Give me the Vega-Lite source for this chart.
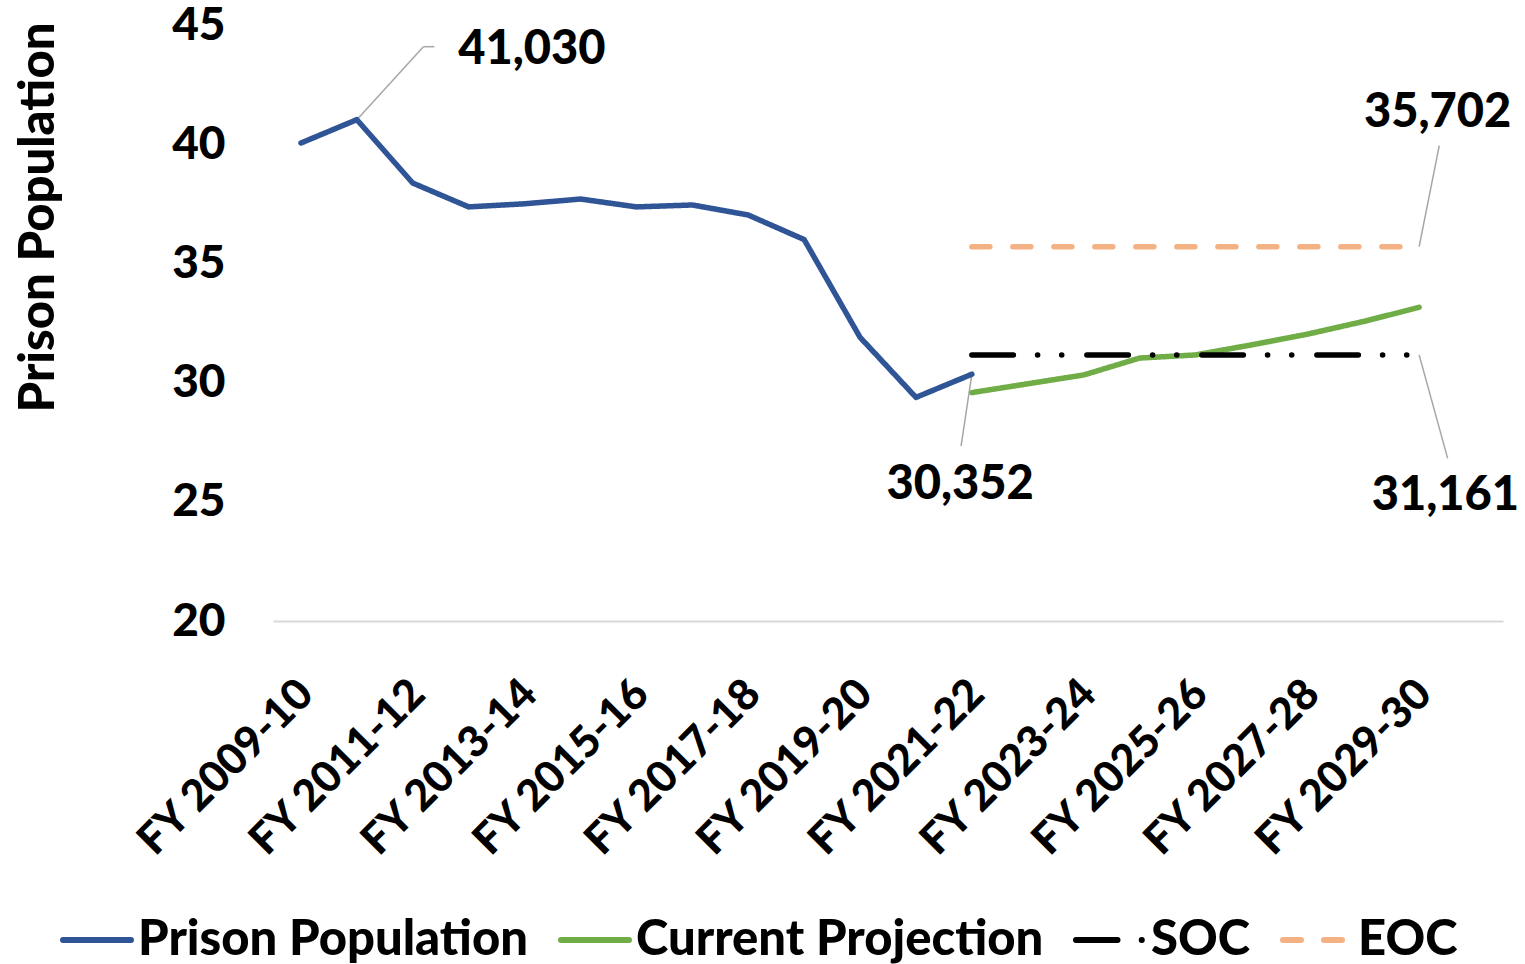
{
  "$schema": "https://vega.github.io/schema/vega-lite/v6.json",
  "width": 1230,
  "height": 596,
  "autosize": {"type": "none"},
  "padding": {"left": 273, "top": 25, "right": 22, "bottom": 343},
  "background": "white",
  "config": {"font": "Lato", "view": {"stroke": null}},
  "datasets": {
    "lines": [
      {"year": 2009, "value": 40.05, "series": "Prison Population"},
      {"year": 2010, "value": 41.03, "series": "Prison Population"},
      {"year": 2011, "value": 38.37, "series": "Prison Population"},
      {"year": 2012, "value": 37.37, "series": "Prison Population"},
      {"year": 2013, "value": 37.5, "series": "Prison Population"},
      {"year": 2014, "value": 37.7, "series": "Prison Population"},
      {"year": 2015, "value": 37.37, "series": "Prison Population"},
      {"year": 2016, "value": 37.45, "series": "Prison Population"},
      {"year": 2017, "value": 37.03, "series": "Prison Population"},
      {"year": 2018, "value": 36.0, "series": "Prison Population"},
      {"year": 2019, "value": 31.9, "series": "Prison Population"},
      {"year": 2020, "value": 29.38, "series": "Prison Population"},
      {"year": 2021, "value": 30.352, "series": "Prison Population"},
      {"year": 2021, "value": 29.58, "series": "Current Projection"},
      {"year": 2022, "value": 29.95, "series": "Current Projection"},
      {"year": 2023, "value": 30.32, "series": "Current Projection"},
      {"year": 2024, "value": 31.03, "series": "Current Projection"},
      {"year": 2025, "value": 31.16, "series": "Current Projection"},
      {"year": 2026, "value": 31.58, "series": "Current Projection"},
      {"year": 2027, "value": 32.03, "series": "Current Projection"},
      {"year": 2028, "value": 32.56, "series": "Current Projection"},
      {"year": 2029, "value": 33.16, "series": "Current Projection"},
      {"year": 2021, "value": 31.161, "series": "SOC"},
      {"year": 2029, "value": 31.161, "series": "SOC"},
      {"year": 2021, "value": 35.702, "series": "EOC"},
      {"year": 2029, "value": 35.702, "series": "EOC"}
    ],
    "ann": [
      {"x": 2013.13, "y": 43.95, "label": "41,030"},
      {"x": 2020.79, "y": 25.7, "label": "30,352"},
      {"x": 2029.33, "y": 41.31, "label": "35,702"},
      {"x": 2029.47, "y": 25.24, "label": "31,161"}
    ],
    "leaders": [
      {"x": 2010, "y": 41.03, "x2": 2011.19, "y2": 44.09},
      {"x": 2011.19, "y": 44.09, "x2": 2011.385, "y2": 44.09},
      {"x": 2021, "y": 30.352, "x2": 2020.807, "y2": 27.34},
      {"x": 2029, "y": 35.702, "x2": 2029.36, "y2": 39.94},
      {"x": 2029, "y": 31.161, "x2": 2029.51, "y2": 26.82}
    ]
  },
  "layer": [
    {
      "data": {"name": "leaders"},
      "mark": {"type": "rule", "color": "#A6A6A6", "strokeWidth": 1.5},
      "encoding": {
        "x": {"field": "x", "type": "quantitative"},
        "y": {"field": "y", "type": "quantitative"},
        "x2": {"field": "x2"},
        "y2": {"field": "y2"}
      }
    },
    {
      "data": {"name": "lines"},
      "mark": {"type": "line", "strokeWidth": 5.5, "strokeCap": "round", "strokeJoin": "round"},
      "encoding": {
        "x": {
          "field": "year",
          "type": "quantitative",
          "scale": {"domain": [2008.5, 2030.5], "nice": false, "zero": false},
          "axis": {
            "values": [2009, 2011, 2013, 2015, 2017, 2019, 2021, 2023, 2025, 2027, 2029],
            "labelExpr": "'FY ' + datum.value + '-' + substring(toString(datum.value + 1), 2)",
            "labelAngle": -45,
            "labelAlign": "right",
            "labelBaseline": "middle",
            "labelPadding": 66,
            "labelOffset": 5,
            "labelLimit": 600,
            "ticks": false,
            "grid": false,
            "domainColor": "#D9D9D9",
            "domainWidth": 2,
            "title": null,
            "labelFontSize": 43,
            "labelFontWeight": 900,
            "labelColor": "black",
            "labelOverlap": false,
            "labelBound": false,
            "labelFlush": false
          }
        },
        "y": {
          "field": "value",
          "type": "quantitative",
          "scale": {"domain": [20, 45], "nice": false, "zero": false},
          "axis": {
            "values": [20, 25, 30, 35, 40, 45],
            "labelFontSize": 46,
            "labelFontWeight": 900,
            "labelColor": "black",
            "labelPadding": 48,
            "ticks": false,
            "domain": false,
            "grid": false,
            "labelFlush": false,
            "title": "Prison Population",
            "titleFontSize": 49,
            "titleFontWeight": 900,
            "titleColor": "black",
            "titleX": -220,
            "titleY": 192,
            "titleAngle": -90,
            "titleBaseline": "alphabetic",
            "titleAlign": "center"
          }
        },
        "color": {
          "field": "series",
          "type": "nominal",
          "sort": ["Prison Population", "Current Projection", "SOC", "EOC"],
          "scale": {
            "domain": ["Prison Population", "Current Projection", "SOC", "EOC"],
            "range": ["#2F5597", "#70AD47", "#000000", "#F4B183"]
          },
          "legend": {
            "title": null,
            "orient": "none",
            "legendX": -213,
            "legendY": 878,
            "direction": "horizontal",
            "symbolType": "stroke",
            "symbolSize": 4624,
            "symbolStrokeWidth": 6,
            "labelFontSize": 49,
            "labelFontWeight": 900,
            "labelColor": "black",
            "labelOffset": 4,
            "columnPadding": 20,
            "padding": 0,
            "labelLimit": 1000,
            "encode": {"symbols": {"update": {"strokeCap": {"value": "round"}}}}
          }
        },
        "strokeDash": {
          "field": "series",
          "type": "nominal",
          "sort": ["Prison Population", "Current Projection", "SOC", "EOC"],
          "scale": {
            "domain": ["Prison Population", "Current Projection", "SOC", "EOC"],
            "range": [[1, 0], [1, 0], [41.5, 24.2, 0.1, 24, 0.1, 25.1], [18, 23]]
          }
        }
      }
    },
    {
      "data": {"name": "ann"},
      "mark": {"type": "text", "fontSize": 47, "fontWeight": 900, "baseline": "middle", "align": "center", "color": "black"},
      "encoding": {
        "x": {"field": "x", "type": "quantitative"},
        "y": {"field": "y", "type": "quantitative"},
        "text": {"field": "label"}
      }
    }
  ]
}
